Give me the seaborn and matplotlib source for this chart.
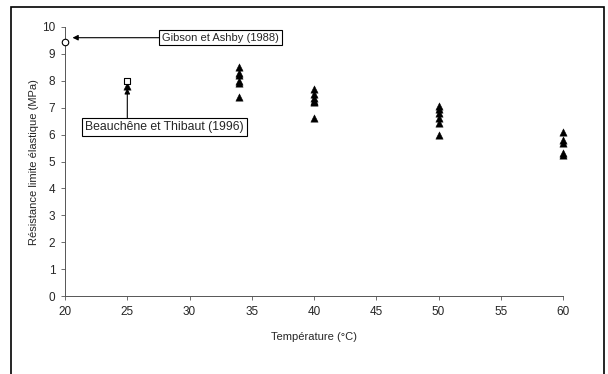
import matplotlib
matplotlib.use("Agg")
import matplotlib.pyplot as plt
import seaborn as sns
import pandas as pd

# Measured yield strength vs temperature
temp_34 = [34, 34, 34, 34, 34, 34]
res_34 = [8.5, 8.3, 8.2, 8.0, 7.9, 7.4]
temp_40 = [40, 40, 40, 40, 40, 40]
res_40 = [7.7, 7.5, 7.35, 7.25, 7.2, 6.6]
temp_50 = [50, 50, 50, 50, 50, 50]
res_50 = [7.05, 6.95, 6.8, 6.6, 6.45, 6.0]
temp_60 = [60, 60, 60, 60, 60]
res_60 = [6.1, 5.8, 5.7, 5.3, 5.25]
temp_25 = [25]
res_25 = [7.8]

# Literature values
gibson_t, gibson_r = [20], [9.45]
beauchene_t, beauchene_r = [25], [8.0]

x_ticks = [20, 25, 30, 35, 40, 45, 50, 55, 60]
y_ticks = [0, 1, 2, 3, 4, 5, 6, 7, 8, 9, 10]

sns.set_style("white")
plt.rcParams["font.family"] = ["Liberation Sans", "DejaVu Sans"]

df = pd.DataFrame({
    "T": temp_25 + temp_34 + temp_40 + temp_50 + temp_60,
    "R": res_25 + res_34 + res_40 + res_50 + res_60,
})

fig = plt.figure(figsize=(6.08, 3.74), dpi=100)
ax = fig.add_axes([0.107, 0.208, 0.819, 0.72])

sns.scatterplot(data=df, x="T", y="R", marker="^", color="black",
                s=28, edgecolor="black", linewidth=0.3, ax=ax, zorder=3,
                clip_on=False)
sns.scatterplot(x=beauchene_t, y=beauchene_r, marker="s", facecolor="white",
                edgecolor="black", s=25, linewidth=0.8, ax=ax, zorder=4)
sns.scatterplot(x=gibson_t, y=gibson_r, marker="o", facecolor="white",
                edgecolor="black", s=22, linewidth=0.8, ax=ax, zorder=4,
                clip_on=False)

ax.set_xlim(20, 60)
ax.set_ylim(0, 10)
ax.set_xticks(x_ticks)
ax.set_yticks(y_ticks)
ax.tick_params(axis="both", labelsize=8.5, length=3, width=0.6,
               color="#555555", direction="out", bottom=True, left=True, pad=4)
for side in ["top", "right"]:
    ax.spines[side].set_visible(False)
for side in ["left", "bottom"]:
    ax.spines[side].set_color("#555555")
    ax.spines[side].set_linewidth(0.7)

ax.set_xlabel("Température (°C)", fontsize=8, labelpad=10)
ax.set_ylabel("Résistance limite élastique (MPa)", fontsize=8, labelpad=2)

box = dict(boxstyle="square,pad=0.25", facecolor="white", edgecolor="black",
           linewidth=0.8)
arrow = dict(arrowstyle="-|>", color="black", linewidth=0.8,
             mutation_scale=8, shrinkA=0, shrinkB=0)

ax.annotate("Gibson et Ashby (1988)", xy=(20.6, 9.6), xytext=(27.8, 9.6),
            fontsize=8, va="center", ha="left", bbox=box, arrowprops=arrow,
            annotation_clip=False)
ax.annotate("Beauchêne et Thibaut (1996)", xy=(21.6, 6.3),
            fontsize=8.8, va="center", ha="left", bbox=box)
ax.annotate("", xy=(25, 7.72), xytext=(25, 6.63), arrowprops=arrow)

# Outer frame of the figure
frame = plt.Rectangle((0.018, -0.01), 0.975, 0.99, transform=fig.transFigure,
                      fill=False, edgecolor="black", linewidth=1.2)
fig.add_artist(frame)

fig.savefig("out.png", dpi=100)
